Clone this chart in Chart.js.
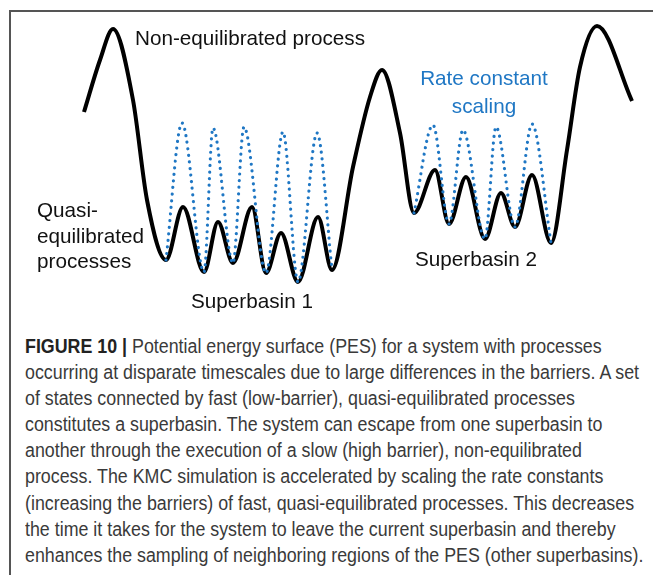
<!DOCTYPE html>
<html>
<head>
<meta charset="utf-8">
<script src="https://cdn.jsdelivr.net/npm/chart.js@4.4.1/dist/chart.umd.min.js"></script>
<style>
  html, body { margin: 0; padding: 0; background: #fff; }
  body { width: 653px; height: 575px; position: relative; overflow: hidden; }
  #frame { position: absolute; left: 9px; top: 10px; width: 700px; height: 600px;
           border-left: 2px solid #555; border-top: 2px solid #555; }
  #wrap { position: absolute; left: 0; top: 0; width: 653px; height: 330px; }
  #caption { position: absolute; left: 25px; top: 333px; transform-origin: 0 0;
             font-family: "Liberation Sans", Arial, sans-serif; font-size: 19.5px;
             line-height: 26.1px; color: #3a3a3a; }
  #caption div { white-space: nowrap; }
  #caption b { color: #222; }
</style>
</head>
<body>
<div id="frame"></div>
<div id="wrap"><canvas id="pes" width="653" height="330"></canvas></div>
<div id="caption">
  <div id="l1"><b>FIGURE 10 |</b> Potential energy surface (PES) for a system with processes</div>
  <div id="l2">occurring at disparate timescales due to large differences in the barriers. A set</div>
  <div>of states connected by fast (low-barrier), quasi-equilibrated processes</div>
  <div>constitutes a superbasin. The system can escape from one superbasin to</div>
  <div>another through the execution of a slow (high barrier), non-equilibrated</div>
  <div>process. The KMC simulation is accelerated by scaling the rate constants</div>
  <div>(increasing the barriers) of fast, quasi-equilibrated processes. This decreases</div>
  <div>the time it takes for the system to leave the current superbasin and thereby</div>
  <div>enhances the sampling of neighboring regions of the PES (other superbasins).</div>
</div>
<script>
// reaction coordinate / energy
const pesX = [84, 100, 113, 133, 147, 166, 183, 204, 218, 233, 252, 266, 281, 298, 318, 332,
              353, 370, 382, 400, 414, 435, 449, 466, 485, 501, 515, 532, 551, 567, 580, 597, 632]
const pesE = [218, 270, 301, 230, 130, 70, 123, 58, 108, 67, 123, 57, 97, 48, 113, 60,
              163, 233, 260, 197, 117, 160, 106, 153, 91, 137, 103, 155, 87, 180, 263, 304, 229]

// scaled barriers (dotted)
const basin1X = [166, 182, 204, 213, 233, 244, 266, 283, 298, 317, 332]
const basin1E = [70, 207, 58, 202, 67, 203, 57, 198, 48, 197, 60]
const basin2X = [414, 433, 449, 463, 485, 496, 515, 532, 551]
const basin2E = [117, 205, 106, 200, 91, 203, 103, 206, 87]

const BLUE = "#1f77c4"

const notes = [
  { text: "Non-equilibrated process", x: 135, y: 285, align: "left", color: "#111" },
  { text: "Rate constant", x: 484, y: 245, align: "center", color: BLUE },
  { text: "scaling", x: 484, y: 217, align: "center", color: BLUE },
  { text: "Quasi-", x: 37, y: 113, align: "left", color: "#111" },
  { text: "equilibrated", x: 37, y: 87.5, align: "left", color: "#111" },
  { text: "processes", x: 37, y: 62, align: "left", color: "#111" },
  { text: "Superbasin 1", x: 252, y: 22, align: "center", color: "#111" },
  { text: "Superbasin 2", x: 476, y: 64, align: "center", color: "#111" }
]

function pts(xs, ys) {
  return xs.map((x, i) => ({ x: x, y: ys[i] }))
}

const notesPlugin = {
  id: "notes",
  afterDatasetsDraw(chart) {
    const ctx = chart.ctx
    const sx = chart.scales.x
    const sy = chart.scales.y
    ctx.save()
    ctx.font = "20.7px 'Liberation Sans', Arial, sans-serif"
    ctx.textBaseline = "alphabetic"
    notes.forEach(n => {
      ctx.fillStyle = n.color
      ctx.textAlign = n.align
      ctx.fillText(n.text, sx.getPixelForValue(n.x), sy.getPixelForValue(n.y))
    })
    ctx.restore()
  }
}

const dotted = {
  borderColor: BLUE,
  borderWidth: 3.2,
  borderDash: [0.01, 6.6],
  borderCapStyle: "round",
  pointRadius: 0,
  cubicInterpolationMode: "monotone",
  fill: false,
  order: 0
}

new Chart(document.getElementById("pes"), {
  type: "line",
  data: {
    datasets: [
      Object.assign({ label: "scaled 1", data: pts(basin1X, basin1E) }, dotted),
      Object.assign({ label: "scaled 2", data: pts(basin2X, basin2E) }, dotted),
      {
        label: "PES",
        data: pts(pesX, pesE),
        borderColor: "#000",
        borderWidth: 4,
        borderCapStyle: "butt",
        pointRadius: 0,
        cubicInterpolationMode: "monotone",
        fill: false,
        order: 1
      }
    ]
  },
  options: {
    responsive: false,
    animation: false,
    devicePixelRatio: 1,
    layout: { padding: 0 },
    plugins: { legend: { display: false }, tooltip: { enabled: false } },
    scales: {
      x: { type: "linear", min: 0, max: 653, display: false },
      y: { type: "linear", min: 0, max: 330, display: false }
    },
    elements: { line: { tension: 0 } }
  },
  plugins: [notesPlugin]
})

// squeeze the caption to the narrow face of the original
const cap = document.getElementById("caption")
const w = document.getElementById("l2").scrollWidth
cap.style.transform = "scaleX(" + (618 / w) + ")"
</script>
</body>
</html>
